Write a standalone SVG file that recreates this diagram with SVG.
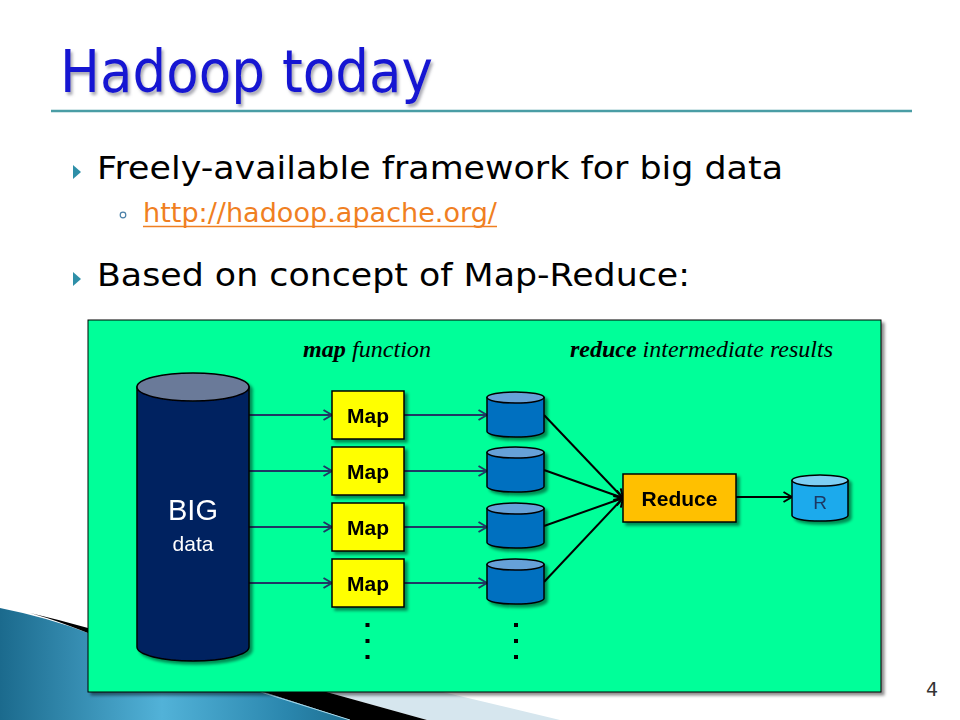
<svg xmlns="http://www.w3.org/2000/svg" width="960" height="720" viewBox="0 0 960 720">
<defs>
<style>
.body{font-family:'DejaVu Sans','Liberation Sans',sans-serif;fill:#000}
.lbl{font-family:'Liberation Serif',serif;font-style:italic;font-size:24px;fill:#000}
.box{stroke:#000;stroke-width:1.5}
.btxt{font-family:'Liberation Sans',sans-serif;font-weight:bold;font-size:21px;fill:#000;text-anchor:middle}
.cyl{fill:#0070C0;stroke:#000;stroke-width:1.5}
.cyltop{fill:#66A1D8;stroke:#000;stroke-width:1.5}
.nav{stroke:#1F3864;stroke-width:2;fill:none}
.blk{stroke:#000;stroke-width:2;fill:none}
.dot{fill:#000}
</style>
<filter id="sh" x="-20%" y="-20%" width="150%" height="150%">
<feDropShadow dx="3" dy="3" stdDeviation="1.5" flood-color="#000" flood-opacity="0.45"/>
</filter>
<filter id="tsh" x="-10%" y="-20%" width="120%" height="150%">
<feDropShadow dx="2" dy="3" stdDeviation="1.5" flood-color="#707080" flood-opacity="0.6"/>
</filter>
<marker id="an" viewBox="0 0 10 12" refX="9.5" refY="6" markerWidth="10" markerHeight="12" markerUnits="userSpaceOnUse" orient="auto">
<path d="M1,1 L9.5,6 L1,11" fill="none" stroke="#1F3864" stroke-width="2"/>
</marker>
<marker id="ab" viewBox="0 0 10 12" refX="9.5" refY="6" markerWidth="10" markerHeight="12" markerUnits="userSpaceOnUse" orient="auto">
<path d="M1,1 L9.5,6 L1,11" fill="none" stroke="#000" stroke-width="2"/>
</marker>
<linearGradient id="sw" gradientUnits="userSpaceOnUse" x1="0" y1="0" x2="360" y2="0">
<stop offset="0" stop-color="#1B6A8D"/>
<stop offset="0.45" stop-color="#52B2D8"/>
<stop offset="0.8" stop-color="#2A86AD"/>
<stop offset="1" stop-color="#1C6C8E"/>
</linearGradient>
</defs>
<rect width="960" height="720" fill="#fff"/>

<g id="decoration">
<polygon points="250,650 447,693 560,720 427,720 330,693" fill="#D6E6EE"/>
<path d="M0,608 Q50,618 88,633 L267,693 L350,720 L0,720 Z" fill="url(#sw)"/>
<path d="M30,613 Q60,620 88,628 L330,693 L427,720 L350,720 L267,693 L88,633 Q50,618 30,613 Z" fill="#000"/>
<path d="M88,634 L267,694 L350,720" fill="none" stroke="#A8DCEE" stroke-width="1"/>
</g>

<g id="title">
<text x="60" y="92" class="body" font-size="58" fill="#1414D2" style="fill:#1414D2" textLength="373" lengthAdjust="spacingAndGlyphs" filter="url(#tsh)">Hadoop today</text>
<line x1="51" y1="111" x2="912" y2="111" stroke="#4A9DA5" stroke-width="2.5"/>
</g>

<g id="bullets">
<polygon points="73,165 81,172 73,179" fill="#2E8FA8"/>
<text x="97" y="179" class="body" font-size="32" textLength="686" lengthAdjust="spacingAndGlyphs">Freely-available framework for big data</text>
<circle cx="123" cy="215" r="2.8" fill="none" stroke="#4A80A8" stroke-width="1.2"/>
<text x="143" y="222" class="body" font-size="26" style="fill:#F07F22" textLength="354" lengthAdjust="spacingAndGlyphs">http://hadoop.apache.org/</text>
<line x1="143" y1="226.5" x2="497" y2="226.5" stroke="#F07F22" stroke-width="1.3"/>
<polygon points="73,272 81,279 73,286" fill="#2E8FA8"/>
<text x="97" y="286" class="body" font-size="32" textLength="593" lengthAdjust="spacingAndGlyphs">Based on concept of Map-Reduce:</text>
</g>

<g id="panel">
<rect x="88" y="320" width="793" height="372" fill="#00FF99" stroke="#000" stroke-width="1" filter="url(#sh)"/>
<text x="303" y="357" class="lbl" textLength="128" lengthAdjust="spacingAndGlyphs"><tspan font-weight="bold">map</tspan> function</text>
<text x="570" y="357" class="lbl" textLength="263" lengthAdjust="spacingAndGlyphs"><tspan font-weight="bold">reduce</tspan> intermediate results</text>
</g>

<g id="connectors">
<line x1="249" y1="415" x2="332" y2="415" class="nav" marker-end="url(#an)"/>
<line x1="249" y1="471" x2="332" y2="471" class="nav" marker-end="url(#an)"/>
<line x1="249" y1="527" x2="332" y2="527" class="nav" marker-end="url(#an)"/>
<line x1="249" y1="583" x2="332" y2="583" class="nav" marker-end="url(#an)"/>
<line x1="404" y1="415" x2="487" y2="415" class="nav" marker-end="url(#an)"/>
<line x1="404" y1="471" x2="487" y2="471" class="nav" marker-end="url(#an)"/>
<line x1="404" y1="527" x2="487" y2="527" class="nav" marker-end="url(#an)"/>
<line x1="404" y1="583" x2="487" y2="583" class="nav" marker-end="url(#an)"/>
<line x1="544" y1="415" x2="623" y2="498" class="blk" marker-end="url(#ab)"/>
<line x1="544" y1="470" x2="623" y2="498" class="blk" marker-end="url(#ab)"/>
<line x1="544" y1="526" x2="623" y2="498" class="blk" marker-end="url(#ab)"/>
<line x1="544" y1="582" x2="623" y2="498" class="blk" marker-end="url(#ab)"/>
<line x1="736" y1="497" x2="792" y2="497" class="blk" marker-end="url(#ab)"/>
</g>

<g id="bigdata" filter="url(#sh)">
<path d="M137,387 L137,647 A56,14 0 0 0 249,647 L249,387 Z" fill="#002060" stroke="#000" stroke-width="1.5"/>
<ellipse cx="193" cy="387" rx="56" ry="14" fill="#6B7A99" stroke="#000" stroke-width="1.5"/>
<text x="193" y="520" font-family="'Liberation Sans',sans-serif" font-size="29" fill="#fff" text-anchor="middle">BIG</text>
<text x="193" y="551" font-family="'Liberation Sans',sans-serif" font-size="21" fill="#fff" text-anchor="middle">data</text>
</g>

<g id="map1" filter="url(#sh)"><rect x="332" y="391" width="72" height="48" fill="#FFFF00" class="box"/><text x="368" y="423" class="btxt">Map</text></g>
<g id="map2" filter="url(#sh)"><rect x="332" y="447" width="72" height="48" fill="#FFFF00" class="box"/><text x="368" y="479" class="btxt">Map</text></g>
<g id="map3" filter="url(#sh)"><rect x="332" y="503" width="72" height="48" fill="#FFFF00" class="box"/><text x="368" y="535" class="btxt">Map</text></g>
<g id="map4" filter="url(#sh)"><rect x="332" y="559" width="72" height="48" fill="#FFFF00" class="box"/><text x="368" y="591" class="btxt">Map</text></g>

<g id="inter1" filter="url(#sh)"><path d="M487,397.5 V431.5 A28.5,5.5 0 0 0 544,431.5 V397.5 Z" class="cyl"/><ellipse cx="515.5" cy="397.5" rx="28.5" ry="5.5" class="cyltop"/></g>
<g id="inter2" filter="url(#sh)"><path d="M487,452.5 V486.5 A28.5,5.5 0 0 0 544,486.5 V452.5 Z" class="cyl"/><ellipse cx="515.5" cy="452.5" rx="28.5" ry="5.5" class="cyltop"/></g>
<g id="inter3" filter="url(#sh)"><path d="M487,508.5 V542.5 A28.5,5.5 0 0 0 544,542.5 V508.5 Z" class="cyl"/><ellipse cx="515.5" cy="508.5" rx="28.5" ry="5.5" class="cyltop"/></g>
<g id="inter4" filter="url(#sh)"><path d="M487,564.5 V598.5 A28.5,5.5 0 0 0 544,598.5 V564.5 Z" class="cyl"/><ellipse cx="515.5" cy="564.5" rx="28.5" ry="5.5" class="cyltop"/></g>

<g id="reduce" filter="url(#sh)"><rect x="623" y="474" width="113" height="48" fill="#FFC000" class="box"/><text x="679.5" y="506" class="btxt">Reduce</text></g>

<g id="result" filter="url(#sh)">
<path d="M792,480.5 V515.5 A28,5.5 0 0 0 848,515.5 V480.5 Z" fill="#1AAAEC" stroke="#000" stroke-width="1.5"/>
<ellipse cx="820" cy="480.5" rx="28" ry="5.5" fill="#7ECFF4" stroke="#000" stroke-width="1.5"/>
<text x="820" y="509" font-family="'Liberation Sans',sans-serif" font-size="19" fill="#1F3864" text-anchor="middle">R</text>
</g>

<g id="ellipsis">
<rect x="365.5" y="623" width="4" height="4" class="dot"/>
<rect x="365.5" y="639" width="4" height="4" class="dot"/>
<rect x="365.5" y="655" width="4" height="4" class="dot"/>
<rect x="514" y="623" width="4" height="4" class="dot"/>
<rect x="514" y="639" width="4" height="4" class="dot"/>
<rect x="514" y="655" width="4" height="4" class="dot"/>
</g>

<text x="932" y="696" font-family="'DejaVu Sans',sans-serif" font-size="19" fill="#333" text-anchor="middle">4</text>
</svg>
